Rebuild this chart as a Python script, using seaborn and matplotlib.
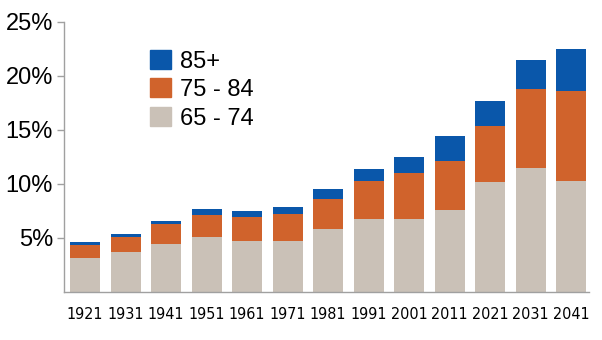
import matplotlib
matplotlib.use("Agg")
import matplotlib.pyplot as plt
import seaborn as sns
import numpy as np
import pandas as pd
from matplotlib.patches import Patch

years = ["1921", "1931", "1941", "1951", "1961", "1971", "1981", "1991", "2001", "2011", "2021", "2031", "2041"]
age_65_74 = [3.15, 3.7, 4.44, 5.1, 4.72, 4.72, 5.83, 6.76, 6.76, 7.59, 10.19, 11.48, 10.28]
age_75_84 = [1.2, 1.4, 1.89, 2.03, 2.22, 2.53, 2.78, 3.52, 4.26, 4.54, 5.18, 7.32, 8.32]
age_85p = [0.28, 0.27, 0.24, 0.55, 0.56, 0.62, 0.93, 1.12, 1.48, 2.31, 2.32, 2.68, 3.9]
series_labels = ["85+", "75 - 84", "65 - 74"]
yticks = [5, 10, 15, 20, 25]

c_blue = "#0A57AA"
c_orange = "#D0632C"
c_grey = "#CAC1B7"

sns.set_style("white")
plt.rcParams['font.family'] = ['Liberation Sans', 'DejaVu Sans']

df = pd.DataFrame({"year": years, "a": age_65_74, "b": age_75_84, "c": age_85p})
df["ab"] = df["a"] + df["b"]
df["abc"] = df["ab"] + df["c"]

fig = plt.figure(figsize=(6.02, 3.40), dpi=100)
ax = fig.add_axes([64/602, 1-292/340, (589-64)/602, (292-22)/340])

for col, c in [("abc", c_blue), ("ab", c_orange), ("a", c_grey)]:
    sns.barplot(data=df, x="year", y=col, color=c, width=0.74, saturation=1,
                linewidth=0, edgecolor="none", ax=ax)

ax.set_xlim(-0.52, 12.44)
ax.set_ylim(0, 25)
ax.set_yticks(yticks)
ax.set_yticklabels([f"{v}%" for v in yticks], fontsize=17, color="black")
ax.set_xlabel("")
ax.set_ylabel("")
for lab in ax.get_xticklabels():
    lab.set_fontsize(11.5)
    lab.set_family(['DejaVu Sans'])
    lab.set_fontstretch("condensed")
    lab.set_color("black")
ax.tick_params(axis="x", length=0, pad=11)
ax.tick_params(axis="y", length=5, width=1, color="#A0A0A0", pad=3, left=True)
for s in ["top", "right"]:
    ax.spines[s].set_visible(False)
for s in ["left", "bottom"]:
    ax.spines[s].set_color("#A0A0A0")
    ax.spines[s].set_linewidth(1)

handles = [Patch(color=c_blue), Patch(color=c_orange), Patch(color=c_grey)]
leg = fig.legend(handles, series_labels, loc="upper left", bbox_to_anchor=(150/602, 1-50/340),
                 frameon=False, fontsize=17, handlelength=0.9, handleheight=0.85,
                 labelspacing=0.25, handletextpad=0.35, borderaxespad=0, borderpad=0)
for t in leg.get_texts():
    t.set_color("black")

fig.savefig("out.png", dpi=100)
